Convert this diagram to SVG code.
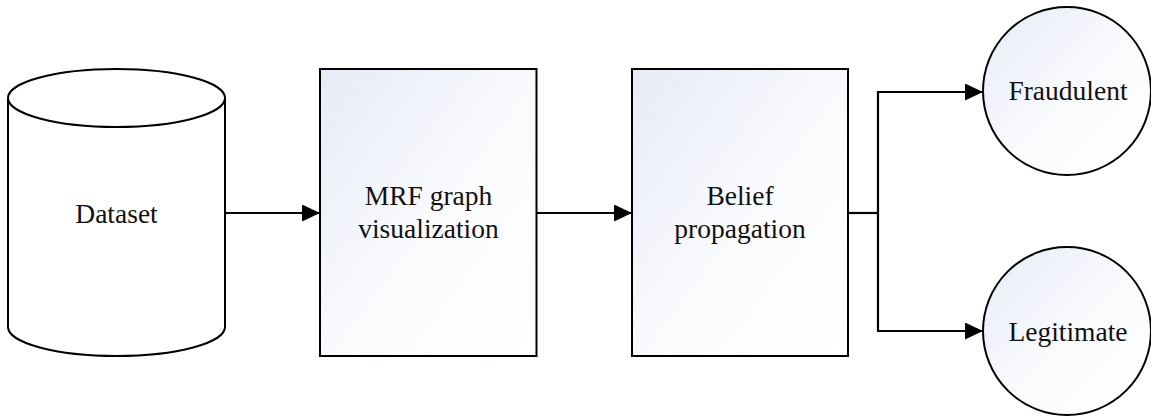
<svg xmlns="http://www.w3.org/2000/svg" width="1151" height="417" viewBox="0 0 1151 417">
  <style>
    .shape { stroke: #000; stroke-width: 2; }
    .wire { fill: none; stroke: #000; stroke-width: 2.2; }
    .label { font-family: "Liberation Serif", "Times New Roman", serif; font-size: 27.5px; fill: #111; text-anchor: middle; }
  </style>
  <defs>
    <linearGradient id="paleFill" x1="0" y1="0" x2="1" y2="1">
      <stop offset="0" stop-color="#e6ebf6"/>
      <stop offset="0.55" stop-color="#fafbfd"/>
      <stop offset="1" stop-color="#ffffff"/>
    </linearGradient>
    <marker id="arrow" viewBox="0 0 18 17" refX="18" refY="8.5" markerWidth="18" markerHeight="17" markerUnits="userSpaceOnUse" orient="auto">
      <path d="M0,0 L18,8.5 L0,17 Z" fill="#000"/>
    </marker>
  </defs>

  <g id="dataset">
    <path class="shape" fill="#fff" d="M8,98 L8,327 A108.5,29 0 0 0 225,327 L225,98 A108.5,29 0 0 0 8,98 Z"/>
    <path class="shape" fill="none" d="M8,98 A108.5,29 0 0 0 225,98"/>
    <text class="label" x="116.5" y="222.5">Dataset</text>
  </g>

  <g id="mrf-graph">
    <rect class="shape" x="320" y="69" width="216.5" height="287" fill="url(#paleFill)"/>
    <text class="label" x="428.5" y="205">MRF graph</text>
    <text class="label" x="428.5" y="238">visualization</text>
  </g>

  <g id="belief-propagation">
    <rect class="shape" x="632" y="69" width="216" height="287" fill="url(#paleFill)"/>
    <text class="label" x="740" y="205">Belief</text>
    <text class="label" x="740" y="238">propagation</text>
  </g>

  <g id="fraudulent">
    <circle class="shape" cx="1067" cy="91" r="84" fill="url(#paleFill)"/>
    <text class="label" x="1068" y="99.5">Fraudulent</text>
  </g>

  <g id="legitimate">
    <circle class="shape" cx="1067" cy="331" r="84" fill="url(#paleFill)"/>
    <text class="label" x="1068" y="340.5">Legitimate</text>
  </g>

  <g id="connectors">
    <path class="wire" d="M225,213 L320,213" marker-end="url(#arrow)"/>
    <path class="wire" d="M536.5,213 L632,213" marker-end="url(#arrow)"/>
    <path class="wire" d="M848,213 L878,213"/>
    <path class="wire" d="M878,213 L878,92 L983,92" marker-end="url(#arrow)"/>
    <path class="wire" d="M878,213 L878,331 L983,331" marker-end="url(#arrow)"/>
  </g>
</svg>
